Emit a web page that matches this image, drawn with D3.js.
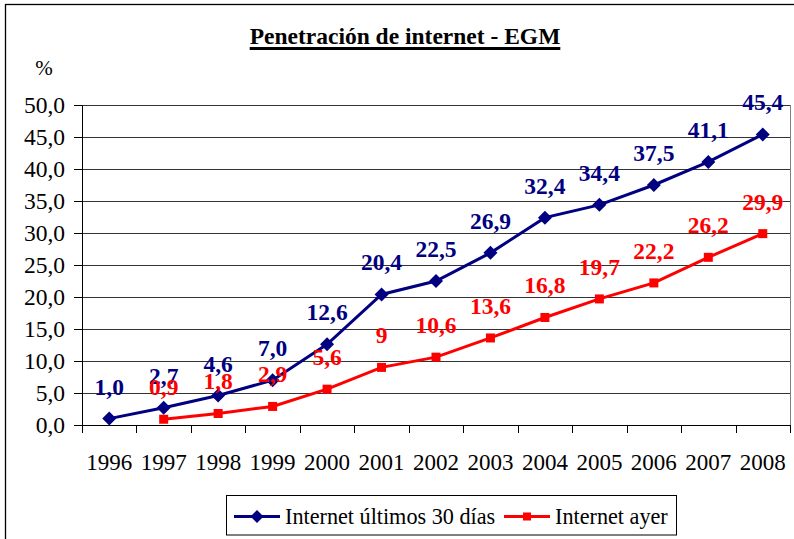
<!DOCTYPE html>
<html><head><meta charset="utf-8">
<script src="https://cdn.jsdelivr.net/npm/d3@7"></script>
<style>body{margin:0;background:#fff}svg{display:block}</style>
</head><body>
<svg id="c" width="794" height="539"></svg>
<script>
const years = ["1996","1997","1998","1999","2000","2001","2002","2003","2004","2005","2006","2007","2008"];
const seriesNames = ["Internet últimos 30 días","Internet ayer"];
const blueValues = [1.0,2.7,4.6,7.0,12.6,20.4,22.5,26.9,32.4,34.4,37.5,41.1,45.4];
const blueLabels = ["1,0","2,7","4,6","7,0","12,6","20,4","22,5","26,9","32,4","34,4","37,5","41,1","45,4"];
const redYears = ["1997","1998","1999","2000","2001","2002","2003","2004","2005","2006","2007","2008"];
const redValues = [0.9,1.8,2.9,5.6,9,10.6,13.6,16.8,19.7,22.2,26.2,29.9];
const redLabels = ["0,9","1,8","2,9","5,6","9","10,6","13,6","16,8","19,7","22,2","26,2","29,9"];
const yTicks = [0,5,10,15,20,25,30,35,40,45,50];
const titleText = "Penetración de internet - EGM";

const svg = d3.select("#c");
const FONT = "'Liberation Serif','Times New Roman',serif";
const BLUE = "#000080", RED = "#FF0000";

svg.append("rect").attr("x",5.5).attr("y",4.5).attr("width",900).attr("height",700)
  .attr("fill","#fff").attr("stroke","#000").attr("stroke-width",1.3);

const x = d3.scaleBand().domain(years).range([82,790]);
const y = d3.scaleLinear().domain([0,50]).range([425,105]);

// gridlines
svg.append("g").selectAll("line").data(yTicks.filter(d=>d>0)).join("line")
  .attr("x1",82).attr("x2",790).attr("y1",d=>Math.round(y(d))+0.5).attr("y2",d=>Math.round(y(d))+0.5)
  .attr("stroke","#333").attr("stroke-width",1.1);
// right border
svg.append("line").attr("x1",790.5).attr("x2",790.5).attr("y1",105).attr("y2",425)
  .attr("stroke","#808080").attr("stroke-width",1);

// y axis
const yAxis = d3.axisLeft(y).tickValues(yTicks).tickSize(8).tickPadding(9)
  .tickFormat(d=>d3.format(".1f")(d).replace(".",","));
const gy = svg.append("g").attr("transform","translate(82,0)").call(yAxis);
gy.select(".domain").attr("stroke","#000");
gy.selectAll(".tick line").attr("stroke","#000");
gy.selectAll("text").attr("font-family",FONT).attr("font-size",23.5).attr("fill","#000");

// x axis
const xAxis = d3.axisBottom(x).tickSize(0).tickPadding(29);
const gx = svg.append("g").attr("transform","translate(0,425)").call(xAxis);
gx.select(".domain").remove();
gx.selectAll("text").attr("font-family",FONT).attr("font-size",23).attr("fill","#000");
svg.append("line").attr("x1",82).attr("x2",790).attr("y1",425.5).attr("y2",425.5).attr("stroke","#000");
svg.append("g").selectAll("line").data(years.concat(["end"])).join("line")
  .attr("x1",(d,i)=>Math.round(82+i*x.bandwidth())+0.5).attr("x2",(d,i)=>Math.round(82+i*x.bandwidth())+0.5)
  .attr("y1",425).attr("y2",433).attr("stroke","#000");

const cx = d=>x(d)+x.bandwidth()/2;

// lines
const line = d3.line().x(d=>cx(d[0])).y(d=>y(d[1]));
const blueData = years.map((yr,i)=>[yr,blueValues[i]]);
const redData = redYears.map((yr,i)=>[yr,redValues[i]]);
svg.append("path").datum(redData).attr("d",line).attr("fill","none").attr("stroke",RED).attr("stroke-width",3);
svg.append("path").datum(blueData).attr("d",line).attr("fill","none").attr("stroke",BLUE).attr("stroke-width",3);

const diamond = (s)=>`M0,${-s}L${s},0L0,${s}L${-s},0Z`;
svg.append("g").selectAll("rect").data(redData).join("rect")
  .attr("x",d=>cx(d[0])-4.5).attr("y",d=>y(d[1])-4.5).attr("width",9).attr("height",9).attr("fill",RED);
svg.append("g").selectAll("path").data(blueData).join("path")
  .attr("d",diamond(7)).attr("transform",d=>`translate(${cx(d[0])},${y(d[1])})`).attr("fill",BLUE);

// data labels
svg.append("g").selectAll("text").data(blueData).join("text")
  .attr("x",d=>cx(d[0])).attr("y",d=>y(d[1])-24).attr("text-anchor","middle")
  .attr("font-family",FONT).attr("font-weight","bold").attr("font-size",23.5).attr("fill",BLUE)
  .text((d,i)=>blueLabels[i]);
svg.append("g").selectAll("text").data(redData).join("text")
  .attr("x",d=>cx(d[0])).attr("y",d=>y(d[1])-24).attr("text-anchor","middle")
  .attr("font-family",FONT).attr("font-weight","bold").attr("font-size",23.5).attr("fill",RED)
  .text((d,i)=>redLabels[i]);

// title
const t = svg.append("text").attr("x",405).attr("y",44).attr("text-anchor","middle")
  .attr("font-family",FONT).attr("font-weight","bold").attr("font-size",23.5).attr("fill","#000").text(titleText);
const bb = t.node().getBBox();
svg.append("rect").attr("x",bb.x).attr("y",47).attr("width",bb.width).attr("height",3).attr("fill","#000");

svg.append("text").attr("x",44).attr("y",75).attr("text-anchor","middle")
  .attr("font-family",FONT).attr("font-size",21).attr("fill","#000").text("%");

// legend
const lg = svg.append("g");
lg.append("rect").attr("x",226.5).attr("y",495.5).attr("width",450).attr("height",39.5)
  .attr("fill","#fff").attr("stroke","#000").attr("stroke-width",1);
const ly = 516.5;
lg.append("line").attr("x1",234).attr("x2",280).attr("y1",ly).attr("y2",ly).attr("stroke",BLUE).attr("stroke-width",3);
lg.append("path").attr("d",diamond(6.5)).attr("transform",`translate(257,${ly})`).attr("fill",BLUE);
lg.append("text").attr("x",285).attr("y",ly+7.5).attr("font-family",FONT).attr("font-size",22.2).attr("fill","#000").text(seriesNames[0]);
lg.append("line").attr("x1",504).attr("x2",550).attr("y1",ly).attr("y2",ly).attr("stroke",RED).attr("stroke-width",3);
lg.append("rect").attr("x",523).attr("y",ly-4).attr("width",8).attr("height",8).attr("fill",RED);
lg.append("text").attr("x",555).attr("y",ly+7.5).attr("font-family",FONT).attr("font-size",22.2).attr("fill","#000").text(seriesNames[1]);
</script>
</body></html>
